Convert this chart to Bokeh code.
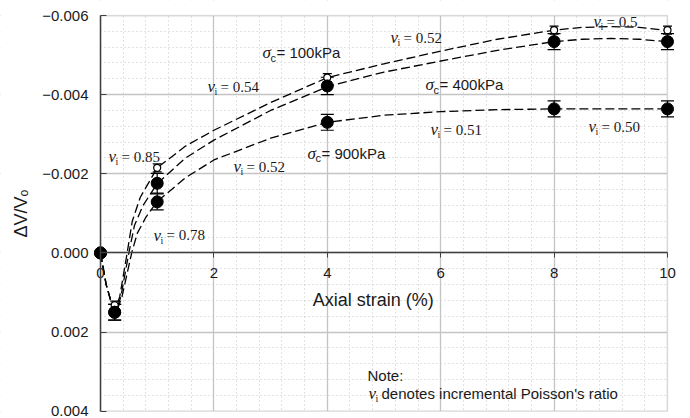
from bokeh.plotting import figure
from bokeh.models import (Range1d, SingleIntervalTicker, CustomJSTickFormatter,
                          Whisker, TeeHead, ColumnDataSource, Label, BoxAnnotation)
from bokeh.core.properties import value
from bokeh.embed import file_html
from bokeh.resources import INLINE

# ---- measured data (axial strain %, volumetric strain dV/V0) ----
strain = [0, 0.25, 1, 4, 8, 10]
dv_100 = [0, 0.00132, -0.00215, -0.00443, -0.00563, -0.00563]
err_100 = [0, 0.0001, 0.0001, 0.0001, 0.0001, 0.0001]
dv_400 = [0, 0.0015, -0.00176, -0.00422, -0.00534, -0.00534]
err_400 = [0, 0.0002, 0.00025, 0.00022, 0.0002, 0.0002]
dv_900 = [0, 0.0015, -0.00129, -0.0033, -0.00364, -0.00364]
err_900 = [0, 0.0002, 0.0002, 0.0002, 0.0002, 0.0002]

# ---- fitted (dashed) curves ----
fit100_x = [0, 0.1, 0.2, 0.27, 0.34, 0.47, 0.56, 0.7, 1.0, 1.5, 2, 3, 4, 5, 6, 7, 8, 8.5, 9, 9.5, 10]
fit100_y = [0, 0.0008, 0.0013, 0.0014, 0.0011, 0.0, -0.0008, -0.0014, -0.00215, -0.0027, -0.0031,
            -0.0038, -0.00443, -0.00478, -0.0051, -0.0054, -0.00563, -0.0057, -0.00572, -0.0057, -0.00562]
fit400_x = [0, 0.1, 0.2, 0.28, 0.36, 0.5, 0.6, 0.75, 1.0, 1.5, 2, 3, 4, 5, 6, 7, 8, 8.5, 9, 9.5, 10]
fit400_y = [0, 0.0008, 0.0013, 0.00145, 0.0011, 0.0, -0.0007, -0.0012, -0.00175, -0.0024, -0.00285,
            -0.0036, -0.0042, -0.00457, -0.00485, -0.00512, -0.00534, -0.0054, -0.00542, -0.0054, -0.00534]
fit900_x = [0, 0.1, 0.2, 0.28, 0.38, 0.55, 0.65, 0.8, 1.0, 1.5, 2, 3, 4, 5, 6, 7, 8, 9, 10]
fit900_y = [0, 0.0008, 0.0013, 0.0015, 0.0011, 0.0, -0.0005, -0.0009, -0.0013, -0.0019, -0.00235,
            -0.0029, -0.0033, -0.00348, -0.00357, -0.00362, -0.00364, -0.00364, -0.00364]

# ---- axis limits ----
X_MIN, X_MAX = 0, 10
Y_MIN, Y_MAX = -0.006, 0.004

# ---- labels ----
nu_labels = ["= 0.52", "= 0.54", "= 0.85", "= 0.78", "= 0.52", "= 0.51", "= 0.5", "= 0.50"]
nu_x = [5.115, 1.887, 0.141, 0.935, 2.346, 5.82, 8.695, 8.607]
nu_y = [-0.005436, -0.004203, -0.002431, -0.000448, -0.002178, -0.003107, -0.005842, -0.003183]
sig_labels = [" = 100kPa", " = 400kPa", "= 900kPa"]
sig_x = [2.857, 5.732, 3.651]
sig_y = [-0.005056, -0.004246, -0.002524]

SANS = value("Liberation Sans")
SERIF = value("Liberation Serif")
INK = "#1a1a1a"

# canvas layout (pixels): the data frame spans the whole canvas, the plot box sits inside it
W, H = 690, 418
BOX_L, BOX_R, BOX_T, BOX_B = 100, 667, 15, 410.7
kx = (X_MAX - X_MIN) / (BOX_R - BOX_L)
ky = (Y_MAX - Y_MIN) / (BOX_B - BOX_T)
x_range = Range1d(X_MIN - BOX_L * kx, X_MAX + (W - BOX_R) * kx)
y_range = Range1d(Y_MAX + (H - BOX_B) * ky, Y_MIN - BOX_T * ky)   # inverted axis

p = figure(width=W, height=H, output_backend="svg", toolbar_location=None,
           x_range=x_range, y_range=y_range,
           min_border_left=0, min_border_right=0, min_border_top=0, min_border_bottom=0)
p.background_fill_color = "white"
p.border_fill_color = "white"
p.outline_line_color = None

p.xaxis.ticker = SingleIntervalTicker(interval=2, num_minor_ticks=5)
p.yaxis.ticker = SingleIntervalTicker(interval=0.002, num_minor_ticks=5)
for g in (p.xgrid, p.ygrid):
    g.grid_line_color = "#c4c4c4"
    g.grid_line_width = 1.3
    g.minor_grid_line_color = "#c4c4c4"
    g.minor_grid_line_dash = "1 3"
    g.minor_grid_line_width = 1

# white masks outside the plot box (hide grid overflow), then the box border
for kw in (dict(right=X_MIN), dict(left=X_MAX), dict(bottom=Y_MIN), dict(top=Y_MAX)):
    p.add_layout(BoxAnnotation(fill_color="white", fill_alpha=1, line_color=None,
                               level="underlay", **kw))
p.add_layout(BoxAnnotation(left=X_MIN, right=X_MAX, top=Y_MIN, bottom=Y_MAX,
                           fill_alpha=0, line_color="#c0c0c0", line_width=1.5,
                           level="underlay"))

ax = p.xaxis[0]
ax.fixed_location = 0
ax.bounds = (X_MIN, X_MAX)
ax.axis_line_color = "#404040"
ax.axis_line_width = 1.5
ax.major_tick_line_color = "#404040"
ax.major_tick_out = 5
ax.major_tick_in = 0
ax.minor_tick_line_color = None
ax.major_label_text_font = "Liberation Sans"
ax.major_label_text_font_size = "15px"
ax.major_label_text_color = INK
ax.major_label_standoff = 10

ay = p.yaxis[0]
ay.fixed_location = 0
ay.bounds = (Y_MIN, Y_MAX)
ay.axis_line_color = "#404040"
ay.axis_line_width = 1.5
ay.major_tick_line_color = "#404040"
ay.major_tick_out = 0
ay.major_tick_in = 6
ay.minor_tick_line_color = None
ay.formatter = CustomJSTickFormatter(
    code="return (tick < -1e-12 ? '\u2212' : '') + Math.abs(tick).toFixed(3);")
ay.major_label_text_font = "Liberation Sans"
ay.major_label_text_font_size = "15px"
ay.major_label_text_color = INK
ay.major_label_standoff = 8
ay.axis_label = "\u0394V/V\u2092"
ay.axis_label_text_font = "Liberation Sans"
ay.axis_label_text_font_size = "18px"
ay.axis_label_text_font_style = "normal"
ay.axis_label_text_color = INK
ay.axis_label_standoff = 8

p.add_layout(Label(x=4.81, y=0, text="Axial strain (%)", y_offset=-47,
                   text_align="center", text_baseline="middle",
                   text_font="Liberation Sans", text_font_size="18px", text_color=INK))

# dashed fitted curves
for fx, fy in ((fit100_x, fit100_y), (fit400_x, fit400_y), (fit900_x, fit900_y)):
    p.line(fx, fy, line_color="black", line_width=1.3, line_dash="9 4")

# error bars and markers
def add_series(ys, es, filled):
    src = ColumnDataSource(dict(x=strain, y=ys,
                                lo=[a - b for a, b in zip(ys, es)],
                                hi=[a + b for a, b in zip(ys, es)]))
    hs = 13 if filled else 9
    p.add_layout(Whisker(source=src, base="x", lower="lo", upper="hi", dimension="height",
                         line_color="black", line_width=1.2,
                         lower_head=TeeHead(size=hs, line_color="black", line_width=1.2),
                         upper_head=TeeHead(size=hs, line_color="black", line_width=1.2)))
    if filled:
        p.scatter("x", "y", source=src, size=12, fill_color="black", line_color="black")
    else:
        p.scatter("x", "y", source=src, size=7, fill_color="white", line_color="black", line_width=1.2)

add_series(dv_100, err_100, False)
add_series(dv_400, err_400, True)
add_series(dv_900, err_900, True)

# ν_i labels
nsrc = ColumnDataSource(dict(x=nu_x, y=nu_y, t=nu_labels))
p.text("x", "y", text=value("\u03bd"), source=nsrc, text_font=SERIF, text_font_style="italic",
       text_font_size="17px", text_baseline="middle", text_color=INK)
p.text("x", "y", text=value("i"), source=nsrc, text_font=SERIF, text_font_size="10px",
       x_offset=7, y_offset=5, text_baseline="middle", text_color=INK)
p.text("x", "y", text="t", source=nsrc, text_font=SERIF, text_font_size="15px",
       x_offset=13, text_baseline="middle", text_color=INK)

# σ_c labels
ssrc = ColumnDataSource(dict(x=sig_x, y=sig_y, t=sig_labels))
p.text("x", "y", text=value("\u03c3"), source=ssrc, text_font=SERIF, text_font_style="italic",
       text_font_size="17px", text_baseline="middle", text_color=INK)
p.text("x", "y", text=value("c"), source=ssrc, text_font=SANS, text_font_size="11px",
       x_offset=8, y_offset=5, text_baseline="middle", text_color=INK)
p.text("x", "y", text="t", source=ssrc, text_font=SANS, text_font_size="15px",
       x_offset=14, text_baseline="middle", text_color=INK)

# note
p.text([4.709], [0.003096], text=["Note:"], text_font=SANS, text_font_size="15px",
       text_baseline="middle", text_color=INK)
p.text([4.727], [0.00356], text=["\u03bd"], text_font=SERIF, text_font_style="italic",
       text_font_size="17px", text_baseline="middle", text_color=INK)
p.text([4.727], [0.00356], text=["i"], text_font=SERIF, text_font_size="10px",
       x_offset=7, y_offset=5, text_baseline="middle", text_color=INK)
p.text([4.727], [0.00356], text=["denotes incremental Poisson's ratio"], text_font=SANS,
       text_font_size="15px", x_offset=13, text_baseline="middle", text_color=INK)

open("out.html", "w").write(file_html(p, INLINE))
